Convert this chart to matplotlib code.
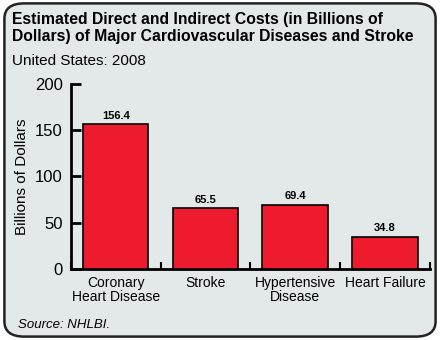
import matplotlib
matplotlib.use("Agg")
import matplotlib.pyplot as plt
from matplotlib.patches import FancyBboxPatch

categories = ["Coronary\nHeart Disease", "Stroke", "Hypertensive\nDisease", "Heart Failure"]
costs = [156.4, 65.5, 69.4, 34.8]
value_labels = ["156.4", "65.5", "69.4", "34.8"]
y_ticks = [0, 50, 100, 150, 200]

BG = "#e3e9e9"
RED = "#ee1b2f"

plt.rcParams["font.family"] = ["Liberation Sans", "DejaVu Sans"]

fig = plt.figure(figsize=(4.4, 3.4), dpi=100)
fig.patch.set_facecolor("white")

# rounded panel behind everything
box = FancyBboxPatch((0.01, 0.01), 0.98, 0.98,
                     boxstyle="round,pad=0,rounding_size=0.045",
                     transform=fig.transFigure, facecolor=BG,
                     edgecolor="#222222", linewidth=1.8, zorder=-5)
fig.patches.append(box)

ax = fig.add_axes([0.161, 0.209, 0.816, 0.544])
ax.set_facecolor("none")
ax.set_zorder(2)

x = list(range(len(categories)))
ax.bar(x, costs, width=0.73, color=RED, edgecolor="black", linewidth=1.2, zorder=3)

for xi, v, lab in zip(x, costs, value_labels):
    ax.text(xi, v + 4, lab, ha="center", va="bottom", fontsize=8,
            fontweight="bold")

ax.set_xlim(-0.5, 3.5)
ax.set_ylim(0, 200)
ax.set_yticks(y_ticks)
ax.set_yticklabels([str(t) for t in y_ticks], fontsize=12)
ax.set_xticks(x)
ax.set_xticklabels(categories, fontsize=10, linespacing=1.0)
ax.tick_params(axis="x", length=0, pad=5)
ax.tick_params(axis="y", direction="in", length=7, width=2, pad=6)

# boundary ticks between categories
ax.set_xticks([-0.5, 0.5, 1.5, 2.5, 3.5], minor=True)
ax.tick_params(axis="x", which="minor", direction="in", length=5, width=1.5)

for s in ["top", "right"]:
    ax.spines[s].set_visible(False)
ax.spines["left"].set_linewidth(2)
ax.spines["bottom"].set_linewidth(2)

ax.set_ylabel("Billions of Dollars", fontsize=11, labelpad=4)

fig.text(0.027, 0.965, "Estimated Direct and Indirect Costs (in Billions of\nDollars) of Major Cardiovascular Diseases and Stroke",
         ha="left", va="top", fontsize=11.3, fontweight="bold", linespacing=1.2)
fig.text(0.027, 0.822, "United States: 2008", ha="left", va="center", fontsize=11)
fig.text(0.04, 0.045, "Source: NHLBI.", ha="left", va="center", fontsize=9.5,
         style="italic")

fig.savefig("out.png", dpi=100, facecolor="white")
